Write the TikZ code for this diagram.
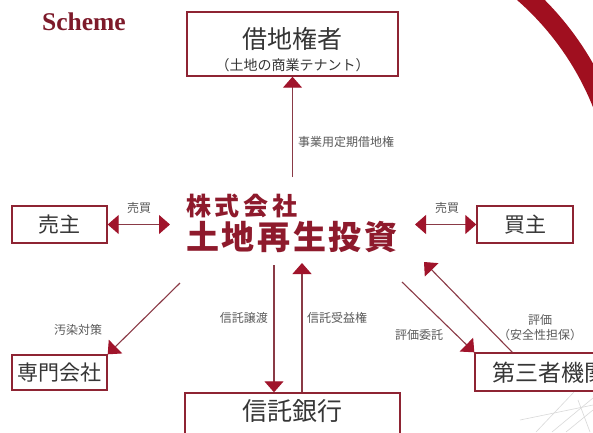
\documentclass[tikz,border=0pt]{standalone}
\usepackage{fontspec}
\setmainfont{Liberation Serif}
\newfontfamily\jpfont{Noto Sans CJK JP}
\usetikzlibrary{arrows.meta, positioning}
\definecolor{schemec}{HTML}{7D1A2A}
\definecolor{boxc}{HTML}{8E2433}
\definecolor{tipc}{HTML}{A0142B}
\definecolor{shaftc}{HTML}{8A3A46}
\definecolor{ringc}{HTML}{A00F1F}
\definecolor{spvc}{HTML}{8E1A2C}
\definecolor{labelc}{HTML}{5A5A5A}
\definecolor{textc}{HTML}{363636}

\begin{document}
\begin{tikzpicture}[x=1pt, y=-1pt,
  party/.style={draw=boxc, line width=1.4pt, fill=white, inner sep=0pt},
  who/.style={font=\jpfont\fontsize{#1}{#1}\selectfont, text=textc, inner sep=0pt},
  tag/.style={font=\jpfont\fontsize{12}{15}\selectfont, text=labelc, inner sep=1pt},
  arr/.style={draw=shaftc, line width=1.1pt,
              -{Triangle[length=11pt, width=19pt, color=tipc]}},
  dbl/.style={draw=shaftc, line width=1.1pt,
              {Triangle[length=11pt, width=19pt, color=tipc]}-{Triangle[length=11pt, width=19pt, color=tipc]}}]
  \useasboundingbox (0,0) rectangle (593,432);
  \clip (0,0) rectangle (593,432);
  \fill[white] (0,0) rectangle (593,432);

  % ring in the corner and faint lines behind
  \begin{scope}
    \clip (460,0) rectangle (593,140);
    \fill[ringc, even odd rule] (332,211.5) circle[radius=300pt]
                                (332,211.5) circle[radius=281pt];
  \end{scope}
  \begin{scope}[gray!30, line width=0.6pt]
    \draw (536,432) -- (574,392);
    \draw (552,432) -- (593,398);
    \draw (566,432) -- (593,410);
    \draw (578,400) -- (590,432);
    \draw (520,420) -- (593,405);
  \end{scope}

  \node[font=\bfseries\fontsize{25.5}{25.5}\selectfont, text=schemec] (title) at (84,22) {Scheme};

  % parties
  \node[party, minimum width=211pt, minimum height=64pt] (tenant) at (292.5,44) {};
  \node[who=25] (tenantname) at (292.5,39) {借地権者};
  \node[who=14] (tenantnote) at (292.5,65) {（土地の商業テナント）};
  \node[party, minimum width=95pt, minimum height=37pt, who=21] (seller) at (59.5,224.5) {売主};
  \node[party, minimum width=96pt, minimum height=37pt, who=21] (buyer) at (525,224.5) {買主};
  \node[party, minimum width=95pt, minimum height=35pt, who=21] (expert) at (59.5,372.5) {専門会社};
  \node[party, minimum width=215pt, minimum height=56pt] (bank) at (292.5,421) {};
  \node[who=25] (bankname) at (292.5,411.5) {信託銀行};
  \node[party, minimum width=170pt, minimum height=38pt] (third) at (560,372) {};
  \node[who=23, anchor=west] (thirdname) at (492,372.5) {第三者機関};

  % the company in the middle
  \node[anchor=west, inner sep=0pt, text=spvc,
        font=\jpfont\bfseries\fontsize{25}{25}\selectfont\addfontfeatures{LetterSpace=15}]
    (spvco) at (186,206) {株式会社};
  \node[anchor=west, inner sep=0pt, text=spvc,
        font=\jpfont\bfseries\fontsize{33}{33}\selectfont\addfontfeatures{LetterSpace=8}]
    (spv) at (186,237) {土地再生投資};

  \coordinate (topout) at (292.5,177);
  \coordinate (leftout) at (170,224.5);
  \coordinate (rightout) at (415,224.5);
  \coordinate (swout) at (180,283);
  \coordinate (downout) at (274,265);
  \coordinate (upin) at (302,263);
  \coordinate (seout) at (402,282);
  \coordinate (evalin) at (424,262);

  \draw[arr] (topout) -- (tenant.south);
  \draw[dbl] (seller.east) -- (leftout);
  \draw[dbl] (rightout) -- (buyer.west);
  \draw[arr] (swout) -- (expert.north east);
  \draw[arr] (downout) -- (downout |- bank.north);
  \draw[arr] (upin |- bank.north) -- (upin);
  \draw[arr] (seout) -- (third.north west);
  \draw[arr] ([xshift=38pt]third.north west) -- (evalin);

  % labels on the arrows
  \node[tag, anchor=west] (leasetag) at (297,142) {事業用定期借地権};
  \node[tag] (saletagl) at (139,208) {売買};
  \node[tag] (saletagr) at (447,208) {売買};
  \node[tag] (cleantag) at (78,330) {汚染対策};
  \node[tag, anchor=east] (transfertag) at (269,318) {信託譲渡};
  \node[tag, anchor=west] (benefittag) at (306,318) {信託受益権};
  \node[tag] (ordertag) at (419,335) {評価委託};
  \node[tag, align=center] (evaltag) at (540,327.5) {評価\\（安全性担保）};
\end{tikzpicture}
\end{document}
